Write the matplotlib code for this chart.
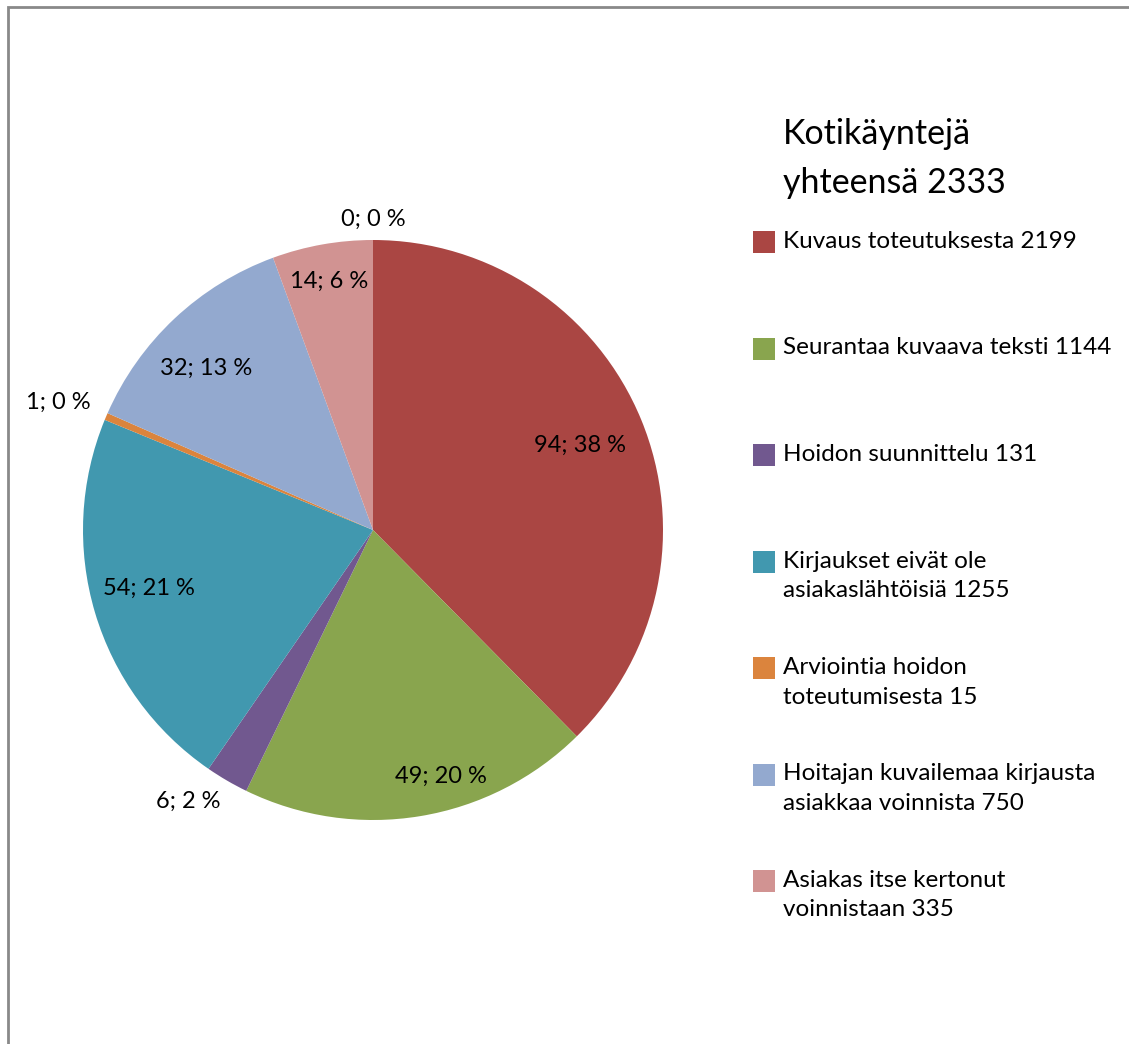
"""Kotikäynnit: kirjausten jakauma, Excel-tyylinen piirakka."""
import matplotlib
matplotlib.use("Agg")
import matplotlib.pyplot as plt
from matplotlib.patches import Rectangle
import numpy as np

plt.rcParams["font.family"] = ["Lato", "DejaVu Sans"]

# data
values = [94, 49, 6, 54, 1, 32, 14, 0]
percents = [38, 20, 2, 21, 0, 13, 6, 0]
colors = ["#AA4643", "#89A54E", "#71588F", "#4198AF",
          "#DB843D", "#93A9CF", "#D19392", "#FFFFFF"]
legend_labels = [
    "Kuvaus toteutuksesta 2199",
    "Seurantaa kuvaava teksti 1144",
    "Hoidon suunnittelu 131",
    "Kirjaukset eivät ole\nasiakaslähtöisiä 1255",
    "Arviointia hoidon\ntoteutumisesta 15",
    "Hoitajan kuvailemaa kirjausta\nasiakkaa voinnista 750",
    "Asiakas itse kertonut\nvoinnistaan 335",
]
title = "Kotikäyntejä\nyhteensä 2333"

# label placement (radius as fraction of pie radius, angle tweak in degrees)
lab_r = [0.77, 0.88, 1.13, 0.80, 1.17, 0.80, 0.87, 1.07]
lab_dang = [0, 6, -4, -2, 1, 2.7, 0, 0]

W, H = 1129, 1044
fig = plt.figure(figsize=(W / 100, H / 100), dpi=100)

# chart-area border (top and left visible)
fig.patches.append(Rectangle((8 / W, -0.1), 1.2, (H - 7) / H + 0.1,
                             transform=fig.transFigure, fill=False,
                             edgecolor="#898989", linewidth=2))

cx, cy, R = 373, H - 530, 290
ax = fig.add_axes([(cx - R) / W, (cy - R) / H, 2 * R / W, 2 * R / H])
wedges, _ = ax.pie(values, colors=colors, startangle=90, counterclock=False,
                   radius=1, wedgeprops=dict(linewidth=0))
ax.set_xlim(-1, 1)
ax.set_ylim(-1, 1)
ax.set_aspect("equal")
ax.axis("off")

for w, v, p, r, da in zip(wedges, values, percents, lab_r, lab_dang):
    ang = np.deg2rad((w.theta1 + w.theta2) / 2 + da)
    ax.text(r * np.cos(ang), r * np.sin(ang), f"{v}; {p} %",
            ha="center", va="center", fontsize=17, clip_on=False)

# title + legend on the right
fig.text(783 / W, (H - 118) / H, title, fontsize=24.5, va="top", ha="left",
         linespacing=1.65)
for i, (lab, col) in enumerate(zip(legend_labels, colors)):
    yc = 242 + 106.5 * i
    fig.patches.append(Rectangle((753 / W, (H - yc - 11) / H), 22 / W, 22 / H,
                                 transform=fig.transFigure, facecolor=col,
                                 edgecolor="none"))
    fig.text(783 / W, (H - yc + 11) / H, lab, fontsize=17.5, va="top",
             ha="left", linespacing=1.5)

fig.savefig("out.png", dpi=100)
